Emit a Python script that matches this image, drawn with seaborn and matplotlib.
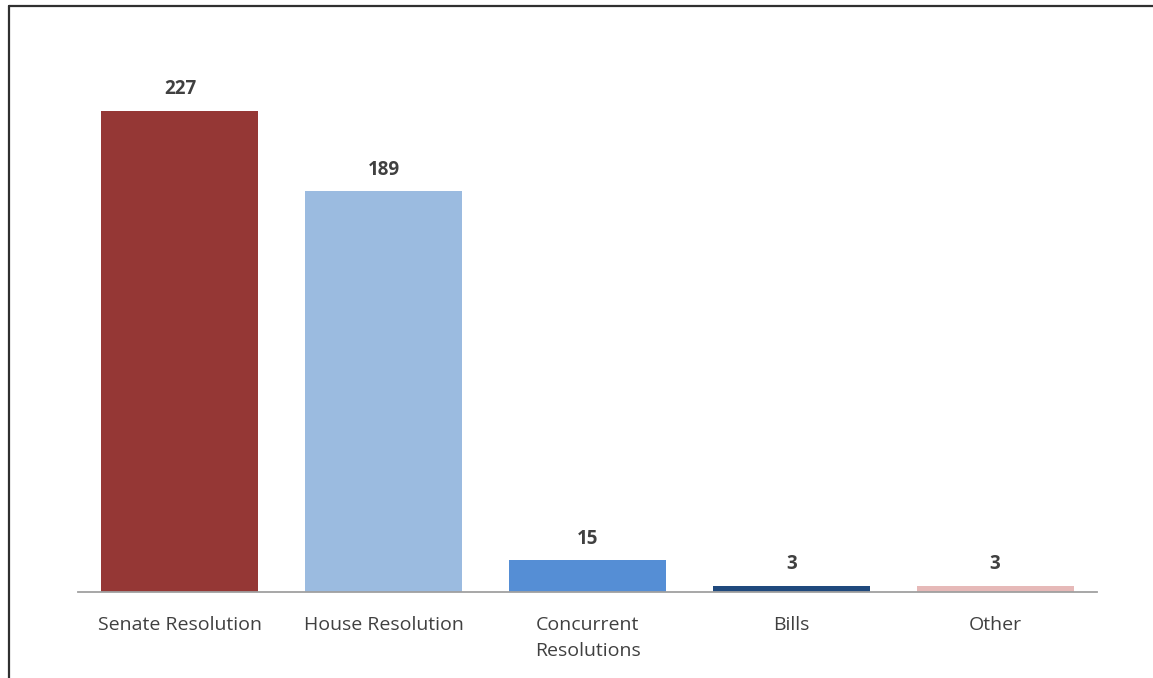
import matplotlib
matplotlib.use("Agg")
import matplotlib.pyplot as plt
import seaborn as sns
import pandas as pd
from matplotlib.lines import Line2D

categories = ["Senate Resolution", "House Resolution", "Concurrent\nResolutions", "Bills", "Other"]
counts = [227, 189, 15, 3, 3]
bar_colors = ["#953735", "#9bbbe0", "#558ed5", "#1f497d", "#e6b9b8"]

df = pd.DataFrame({"category": categories, "count": counts})

sns.set_style("white")
plt.rcParams["font.family"] = ["Open Sans", "DejaVu Sans"]

fig = plt.figure(figsize=(11.53, 6.78), dpi=100)
ax = fig.add_axes([0.0677, 0.1268, 0.8837, 0.7818])

sns.barplot(data=df, x="category", y="count", hue="category", palette=bar_colors,
            width=0.77, saturation=1, legend=False, linewidth=0, ax=ax)

for i, v in enumerate(counts):
    ax.text(i, v + 5.5, str(v), ha="center", va="bottom", fontsize=13.5,
            fontweight="bold", color="#404040")

ax.set_ylim(0, 250)
ax.set_xlim(-0.5, len(categories) - 0.5)
ax.set_yticks([])
ax.set_xlabel("")
ax.set_ylabel("")
for s in ["top", "right", "left"]:
    ax.spines[s].set_visible(False)
ax.spines["bottom"].set_color("#a0a0a0")
ax.spines["bottom"].set_linewidth(1.3)
ax.tick_params(axis="x", length=0, pad=17, labelsize=14, labelcolor="#404040")
for lbl in ax.get_xticklabels():
    lbl.set_linespacing(1.6)

# outer frame (left and top edges visible)
fig.add_artist(Line2D([0.0078, 0.0078], [0, 0.991], transform=fig.transFigure,
                      color="#303030", linewidth=1.6))
fig.add_artist(Line2D([0.0078, 1], [0.991, 0.991], transform=fig.transFigure,
                      color="#303030", linewidth=1.6))

fig.savefig("out.png", dpi=100)
plt.close(fig)
